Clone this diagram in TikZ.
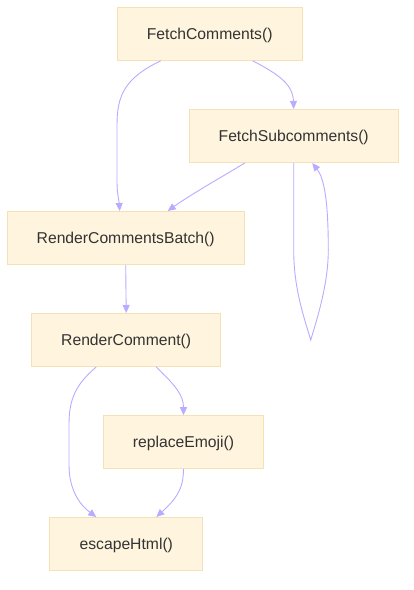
\documentclass[tikz,border=0pt]{standalone}
\usepackage{fontspec}
\setmainfont{Liberation Sans}
\usepackage{tikz}
\usetikzlibrary{arrows.meta}
\definecolor{boxfill}{HTML}{FFF4DD}
\definecolor{boxline}{HTML}{F2E2B6}
\definecolor{linkcol}{HTML}{B9ABFF}
\definecolor{txtcol}{HTML}{333333}

\begin{document}
\begin{tikzpicture}[x=1pt, y=-1pt,
        box/.style = {draw = boxline, fill = boxfill, line width = 1pt, minimum height = 53pt, inner sep = 0pt, text height = 13.5pt, text depth = 2.5pt, text = txtcol, font = \fontsize{15.7}{19}\selectfont},
        link/.style = {draw = linkcol, line width = .9pt, -{Triangle[length = 8pt, width = 7pt]}}]
        \useasboundingbox (0,0) rectangle (414,590);
        \node[box, minimum width = 185pt] (fc) at (209.7, 33.8) {FetchComments()};
        \node[box, minimum width = 209pt] (fs) at (293.7, 136) {FetchSubcomments()};
        \node[box, minimum width = 237pt] (rb) at (125.7, 238) {RenderCommentsBatch()};
        \node[box, minimum width = 189pt] (rc) at (126.2, 340) {RenderComment()};
        \node[box, minimum width = 160pt] (re) at (183.5, 442.2) {replaceEmoji()};
        \node[box, minimum width = 153pt] (eh) at (126.3, 544) {escapeHtml()};
        \coordinate (tip) at (310.7, 340);
        \draw[link] ([xshift=-49pt]fc.south) .. controls (125, 78) and (117, 95) .. (117, 125) -- (117, 180) .. controls (117, 195) and (119, 200) .. ([xshift=-6pt]rb.north);
        \draw[link] ([xshift=43pt]fc.south) .. controls (280, 75) and (293, 85) .. (fs.north);
        \draw[link] ([xshift=-49pt]fs.south) .. controls (220, 178) and (190, 195) .. ([xshift=42pt]rb.north);
        \draw[link] (fs.south) -- (293.7, 250) .. controls (293.7, 290) and (305, 320) .. (tip) .. controls (320, 310) and (328.3, 280) .. (328.3, 250) .. controls (328.3, 200) and (324, 178) .. ([xshift=18.6pt]fs.south);
        \draw[link] (rb.south) -- (rc.north);
        \draw[link] ([xshift=-30pt]rc.south) .. controls (75, 385) and (69, 400) .. (69, 425) -- (69, 465) .. controls (69, 490) and (80, 505) .. ([xshift=-30pt]eh.north);
        \draw[link] ([xshift=30pt]rc.south) .. controls (175, 385) and (183.5, 395) .. (re.north);
        \draw[link] (re.south) .. controls (183.5, 490) and (175, 500) .. ([xshift=30pt]eh.north);
\end{tikzpicture}
\end{document}
